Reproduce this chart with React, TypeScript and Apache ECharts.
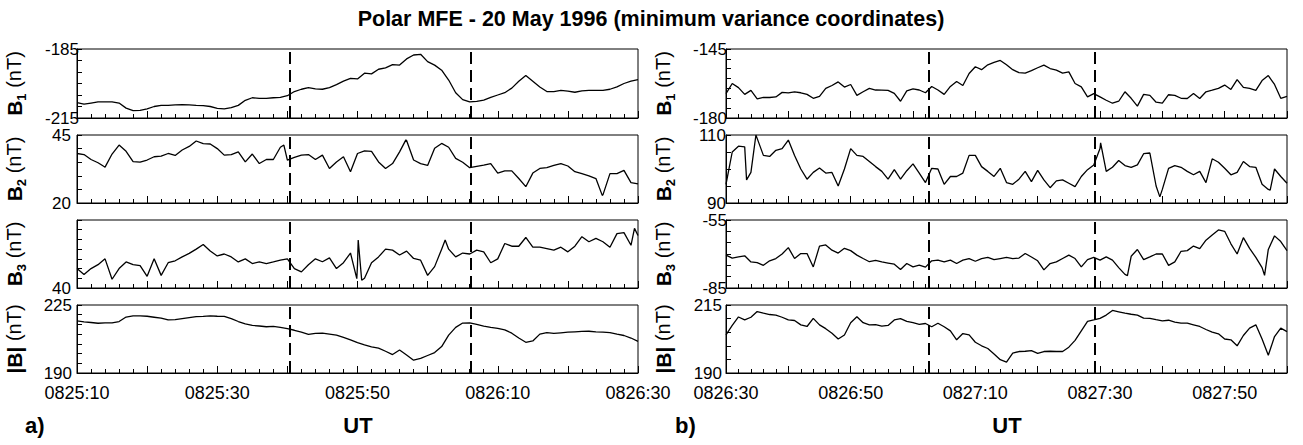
import React, { useEffect, useRef } from 'react';
import * as echarts from 'echarts';

const FONT = '"Liberation Sans", Arial, Helvetica, sans-serif';
const TITLE = 'Polar MFE - 20 May 1996 (minimum variance coordinates)';

// time axes (seconds from the start of each column)
const leftStartSec = 8 * 3600 + 25 * 60 + 10; // 0825:10
const rightStartSec = 8 * 3600 + 26 * 60 + 30; // 0826:30
const leftSpan = 80;
const rightSpan = 90;
const leftDashes = [30.3, 56.2];
const rightDashes = [32.6, 59.1];

// y ranges [min, max] per row
const leftRanges = [[-215, -185], [20, 45], [40, 75], [190, 225]];
const rightRanges = [[-180, -145], [90, 110], [-85, -55], [190, 215]];
const leftHideMax = [false, false, true, false];

// values sampled every second, panel a)
const b1Left = [-208.3,-209,-208.5,-208,-208,-208,-208.5,-210.7,-211.8,-211.7,
 -211,-210,-209.5,-209.5,-209.3,-209.2,-209.3,-209.5,-209.6,-210,
 -210.8,-211,-210.5,-209.5,-207.3,-206.2,-206.5,-206.5,-206.2,-206,
 -205.3,-203.5,-202.5,-201.8,-202.3,-202.5,-201.8,-200.5,-199,-197.8,
 -198,-195.5,-195.8,-193.8,-193.2,-191.8,-192,-189.3,-187.6,-187.3,
 -190.5,-192,-194.2,-198.5,-204,-207,-208,-207.8,-207.2,-206,
 -205,-204,-202,-199,-196.5,-199,-201.5,-203.5,-203.5,-203,
 -203.3,-203.8,-203.2,-203,-203,-203,-202.5,-201.5,-200,-199,
 -198.3];
const b2Left = [38.2,37.8,36,34.8,33.2,38,41.3,39,35.2,35,
 35.8,37,37.2,38.2,37.5,39.5,40.8,42.8,41.8,41.7,
 40,37.6,37.8,38.8,35.1,38,34.5,36,36,40.5,
 35.8,36.8,37.6,37.8,36,37.6,32.7,35.1,37,31.5,
 38.2,39.2,39,35.1,32.7,34.5,38.8,43,35.8,34.5,
 33.8,40.1,41.9,40.5,36.4,35,33,33.5,33.9,34.5,
 31,31.8,31.8,29,26,31,32.7,33,33.8,34.5,
 33.6,31.5,30.8,30,29,23,30.8,30.8,32,27.5,
 27];
const b3Left = [50,47,50,52,55,44.5,50,53.4,52,51.5,
 46,55,46.5,53,54,56,57.8,60,62.4,59,
 56.5,57.5,56,53.4,55,52.6,53.4,52.6,53.4,54.3,
 55,50,48.3,52,55,53.5,55.5,50,53,58,
 52,45,53,56,60,59.5,57,59,55.2,54.3,
 46.5,51,60,60,56,58,57.5,59.5,58.6,53,
 55,62.9,61.5,61.5,66,61,61,60.3,59.5,61,
 58.6,61.5,66.4,63.8,65.5,63.8,61,68,68.5,62,
 67];
const bLeft = [216.8,216.3,216,215.6,215.8,215.8,216.5,218.8,219.4,219.4,
 219.2,218.7,218.2,217.3,217.5,218,218.5,219,219.1,219.4,
 219.2,219.1,218,216.5,215.3,214.5,214.2,213.8,214,213.5,
 212.8,212,211,209.9,210.4,210.5,210,209.5,208.3,207,
 205.6,204.5,203.5,202.8,201.2,199.5,201.8,199.3,196.6,197.5,
 199,200.5,203.6,209.5,213.5,215.7,215.8,215,214.1,213.5,
 213,212.2,210.5,208,205.8,206.5,210,210.8,210.4,210.7,
 211,211.2,211.4,211.5,211.2,211,210.8,210,209.3,208,
 206.3];

// values sampled every second, panel b)
const b1Right = [-167.6,-162.5,-164.6,-168,-166,-170.3,-169.5,-169.6,-169.3,-167,
 -167.3,-166.7,-167.2,-168,-170,-169,-165,-163.5,-161.7,-164.3,
 -163,-168.5,-166.7,-165,-165.8,-165.9,-166,-167.5,-171.5,-166.2,
 -165.2,-165.8,-167.2,-164,-165.8,-168,-164,-161.5,-163.5,-157.4,
 -154,-155.5,-153,-151.8,-150.8,-153,-155.5,-157,-157.2,-156,
 -154.5,-153.2,-154.9,-155.7,-157.2,-156.6,-162.5,-164.2,-169.3,-167.6,
 -169.3,-171,-172.5,-171.5,-166.7,-170,-174,-168,-168.5,-172,
 -172.5,-168.2,-168.5,-170,-170.1,-167.6,-170.1,-166.7,-165.9,-165,
 -163.3,-165.5,-160.5,-164.5,-165,-166,-161,-158.5,-163,-170,
 -169];
const b2Right = [95.5,105,106.7,106.5,99,109,104,103.7,105.5,106,
 108.5,104,100,97,99,100.3,98.8,99,95,100,
 106,104,103.7,102.2,100.7,99.3,97,99.8,97,99.5,
 101.5,98.8,96,100.2,100,95.5,97.8,97.8,98.8,104,
 104,100.7,99.3,97.8,100.2,96,95.5,97,99.3,96.3,
 99.6,96.8,94.5,96.5,96.8,95.8,94.8,97.8,99.8,101.2,
 106,99.3,100.5,102.5,101,100.5,101.2,104.5,104.7,95,
 94,100.2,101,100.5,99.3,98.3,99.3,96,103,102,
 100.2,98.3,99,102.2,100.7,100.5,95.5,94,100,97.8,
 95.8];
const b3Right = [-70.5,-71.8,-71.3,-70.8,-73.5,-73.8,-75,-73,-72,-70,
 -67.2,-72,-69.8,-69.8,-75.7,-66.5,-66,-68.3,-69.6,-67.5,
 -68.5,-70.5,-72,-73.4,-72.8,-73.5,-74,-74.5,-76.8,-74.2,
 -75.7,-74.9,-75.8,-73,-72.7,-73.5,-72.7,-74.2,-72.7,-72,
 -73.2,-72,-71.5,-72.5,-72,-71.5,-72,-71.8,-69.8,-71.3,
 -73,-77,-74.2,-73.5,-72,-70.5,-72,-75.7,-72.5,-71.5,
 -72.7,-71.3,-72.7,-76,-79,-71,-68,-72.5,-71.3,-70,
 -70,-75,-73.5,-68.8,-68.5,-66.5,-67.6,-63.9,-61.6,-59.4,
 -60,-65.5,-70,-62.8,-67.5,-71.5,-76,-68,-62,-64.5,
 -68.5];
const bRight = [204,207.5,210.6,209.5,210.5,212.6,212,211.5,211.3,210.5,
 209.5,209.3,207.7,207.1,210.1,207.7,206.3,204.6,202.5,204,
 208.5,210.7,208.5,207.7,207.8,207.2,207.5,209.5,210,209,
 208.5,207.9,208.2,207,208.3,207,205.5,202.2,204.5,204,
 201.3,200,199,197,194.9,194,197.3,197.9,198,198.2,
 197.2,197.9,198,197.9,197.9,199.5,202,205.5,209,209.5,
 210.1,211.3,213,212.5,212,211.6,211.3,210.2,210.1,209.6,
 209.2,209.4,208.7,208.3,208.3,207.7,207.1,206,205,204.4,
 202.5,202.2,200,203.8,206.5,207.7,202.5,196.5,203.4,206.5,
 205.2];

// extra readings between whole seconds (spikes), [t, value]
const b2LeftExtra = [[3.8, 33.5], [29.5, 41.3], [46.9, 43.2], [74.9, 22.8]];
const b3LeftExtra = [[39.9, 44.8], [40.1, 64.7], [40.6, 44], [52.5, 64.7], [79.5, 70.7]];
const b2RightExtra = [[0.4, 99.3], [3.3, 96.8], [4.8, 110], [60.1, 107.7], [69.6, 91.8], [87.3, 93.8]];
const b3RightExtra = [[64.4, -79.5], [86.4, -79.4]];

const leftSeries = [b1Left, b2Left, b3Left, bLeft];
const rightSeries = [b1Right, b2Right, b3Right, bRight];
const leftExtras = [[], b2LeftExtra, b3LeftExtra, []];
const rightExtras = [[], b2RightExtra, b3RightExtra, []];
const axisNames = ['{b|B}{s|1}{n| (nT)}', '{b|B}{s|2}{n| (nT)}', '{b|B}{s|3}{n| (nT)}', '{b||B|}{n| (nT)}'];

// layout
const colLeft = [77, 726];
const colWidth = 561;
const rowTop = [49, 135, 220, 305];
const rowHeight = [69, 68, 68, 68];
const leftLabelMargin = [-2, 6, 6, 5];
const rightLabelMargin = [-1, 0, -1, 4];

const pad = (n: number) => (n < 10 ? '0' + n : String(n));
const timeFmt = (start: number) => (v: number) => {
  if (Math.round(v) % 20 !== 0) return '';
  const s = start + Math.round(v);
  const hh = Math.floor(s / 3600);
  const mm = Math.floor((s % 3600) / 60);
  const ss = s % 60;
  return pad(hh) + pad(mm) + ':' + pad(ss);
};

function buildOption() {
  const grid: any[] = [];
  const xAxis: any[] = [];
  const yAxis: any[] = [];
  const series: any[] = [];
  for (let c = 0; c < 2; c++) {
    for (let r = 0; r < 4; r++) {
      const idx = grid.length;
      const span = c === 0 ? leftSpan : rightSpan;
      const range = c === 0 ? leftRanges[r] : rightRanges[r];
      const hideMax = c === 0 ? leftHideMax[r] : false;
      const vals = c === 0 ? leftSeries[r] : rightSeries[r];
      const extra = (c === 0 ? leftExtras[r] : rightExtras[r]) as number[][];
      const pts = vals.map((v, i) => [i, v]).concat(extra).sort((a, b) => a[0] - b[0]);
      const dashes = c === 0 ? leftDashes : rightDashes;
      grid.push({
        left: colLeft[c], top: rowTop[r], width: colWidth, height: rowHeight[r],
        show: true, borderColor: '#000', borderWidth: 1, containLabel: false,
      });
      xAxis.push({
        type: 'value', gridIndex: idx, min: 0, max: span, interval: 10,
        axisLine: { show: true, onZero: false, lineStyle: { color: '#000', width: 1 } },
        axisTick: { show: true, inside: true, length: 7, lineStyle: { color: '#000', width: 1 } },
        minorTick: { show: true, splitNumber: 5, length: 4, lineStyle: { color: '#000', width: 1 } },
        splitLine: { show: false },
        axisLabel: {
          show: r === 3, formatter: timeFmt(c === 0 ? leftStartSec : rightStartSec),
          fontSize: 18, fontFamily: FONT, color: '#000', margin: 11,
          showMinLabel: true, showMaxLabel: true,
        },
      });
      yAxis.push({
        type: 'value', gridIndex: idx, min: range[0], max: range[1], interval: 5,
        axisLine: { show: true, onZero: false, lineStyle: { color: '#000', width: 1 } },
        axisTick: { show: true, inside: true, length: 5, lineStyle: { color: '#000', width: 1 } },
        splitLine: { show: false },
        axisLabel: {
          formatter: (v: number) => (v === range[0] || (v === range[1] && !hideMax) ? String(v) : ''),
          fontSize: 17, fontFamily: FONT, color: '#000',
          margin: c === 0 ? leftLabelMargin[r] : rightLabelMargin[r],
          showMinLabel: true, showMaxLabel: true,
        },
        name: axisNames[r], nameLocation: 'middle', nameRotate: 90, nameGap: 49,
        nameTextStyle: {
          color: '#000', fontFamily: FONT, fontSize: 20,
          rich: {
            b: { fontSize: 21, fontWeight: 'bold', fontFamily: FONT, color: '#000', lineHeight: 28 },
            s: { fontSize: 13, fontWeight: 'bold', fontFamily: FONT, color: '#000', lineHeight: 14, verticalAlign: 'bottom' },
            n: { fontSize: 20, fontFamily: FONT, color: '#000', lineHeight: 28 },
          },
        },
      });
      series.push({
        type: 'line', xAxisIndex: idx, yAxisIndex: idx,
        data: pts,
        showSymbol: false, symbol: 'none', silent: true,
        lineStyle: { color: '#000', width: 1.3 },
        markLine: {
          silent: true, symbol: ['none', 'none'], label: { show: false },
          lineStyle: { color: '#000', width: 2, type: [12, 6] },
          emphasis: { disabled: true },
          data: dashes.map((x) => ({ xAxis: x })),
        },
      });
    }
  }
  const txt = (text: string, x: number, y: number, size: number, align: string) => ({
    type: 'text', x, y, silent: true,
    style: { text, fontSize: size, fontWeight: 'bold', fontFamily: FONT, fill: '#000', align, verticalAlign: 'middle' },
  });
  return {
    animation: false,
    backgroundColor: '#fff',
    grid, xAxis, yAxis, series,
    graphic: [
      txt(TITLE, 651, 19, 21.5, 'center'),
      txt('a)', 25, 425, 22, 'left'),
      txt('UT', 358, 425, 22, 'center'),
      txt('b)', 675, 425, 22, 'left'),
      txt('UT', 1007, 425, 22, 'center'),
    ],
  };
}

export default function App() {
  const ref = useRef<HTMLDivElement>(null);
  useEffect(() => {
    if (!ref.current) return;
    const chart = echarts.init(ref.current, undefined, { renderer: 'svg' });
    chart.setOption(buildOption() as any);
    return () => chart.dispose();
  }, []);
  return <div ref={ref} style={{ position: 'fixed', left: 0, top: 0, width: 1303, height: 445 }} />;
}
